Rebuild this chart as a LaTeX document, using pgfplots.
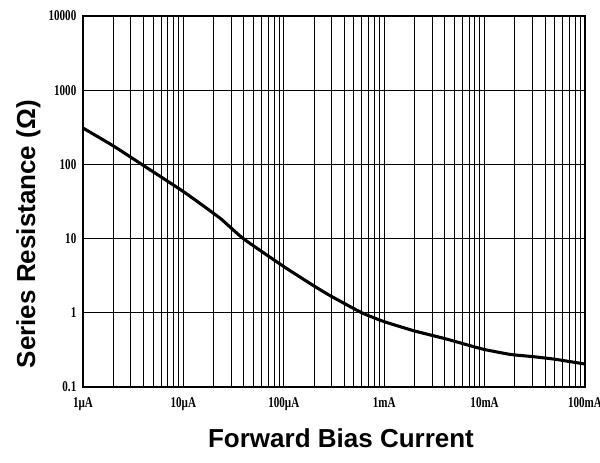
\documentclass[border=0pt]{standalone}
\usepackage{graphicx}
\usepackage{fontspec}
\setmainfont{Liberation Serif}
\setsansfont{Liberation Sans}
\usepackage{pgfplots}
\pgfplotsset{compat=1.18}
\newcommand\sx[1]{\scalebox{0.74}[1]{#1}}
\begin{document}
\begin{tikzpicture}
\begin{axis}[
  at={(0,0)}, anchor=south west,
  scale only axis,
  width=376.5pt, height=278.25pt,
  xmode=log, ymode=log,
  xmin=1e-6, xmax=1e-1, ymin=0.1, ymax=10000,
  xtick={1e-6,1e-5,1e-4,1e-3,1e-2,1e-1},
  xticklabels={\sx{1µA},\sx{10µA},\sx{100µA},\sx{1mA},\sx{10mA},\sx{100mA}},
  ytick={0.1,1,10,100,1000,10000},
  yticklabels={\sx{0.1},\sx{1},\sx{10},\sx{100},\sx{1000},\sx{10000}},
  ticklabel style={font=\bfseries\fontsize{11.2}{12}\selectfont},
  xticklabel style={anchor=base, yshift=-15.5pt},
  yticklabel style={anchor=east, xshift=-1.5pt},
  major tick length=0pt, minor tick length=0pt,
  xmajorgrids=true, xminorgrids=true, ymajorgrids=true, yminorgrids=false,
  major grid style={black, line width=0.75pt},
  minor grid style={black, line width=0.75pt},
  axis line style={black, line width=0.9pt},
  xlabel={Forward Bias Current},
  ylabel={Series Resistance (Ω)},
  label style={font=\sffamily\bfseries\fontsize{19.5}{22}\selectfont},
  xlabel style={at={(axis description cs:0.514,-0.162)}, anchor=base},
  ylabel style={at={(axis description cs:-0.0956,0.412)}, anchor=base, rotate=0},
]
\addplot[black, line width=2.3pt, smooth, tension=0.3] coordinates {
  (1e-6,309) (2e-6,178) (3.85e-6,100) (1e-5,43) (2.3e-5,19) (3.95e-5,10)
  (1e-4,4.2) (2e-4,2.3) (2.9e-4,1.7) (6e-4,1.0) (1e-3,0.76) (2e-3,0.57)
  (4e-3,0.45) (7.2e-3,0.36) (1e-2,0.32) (1.8e-2,0.275) (3e-2,0.257)
  (5e-2,0.237) (1e-1,0.204)
};
\end{axis}
\pgfresetboundingbox
\path (-62.25pt,-56.25pt) rectangle (387.75pt,290.25pt);
\end{tikzpicture}
\end{document}
